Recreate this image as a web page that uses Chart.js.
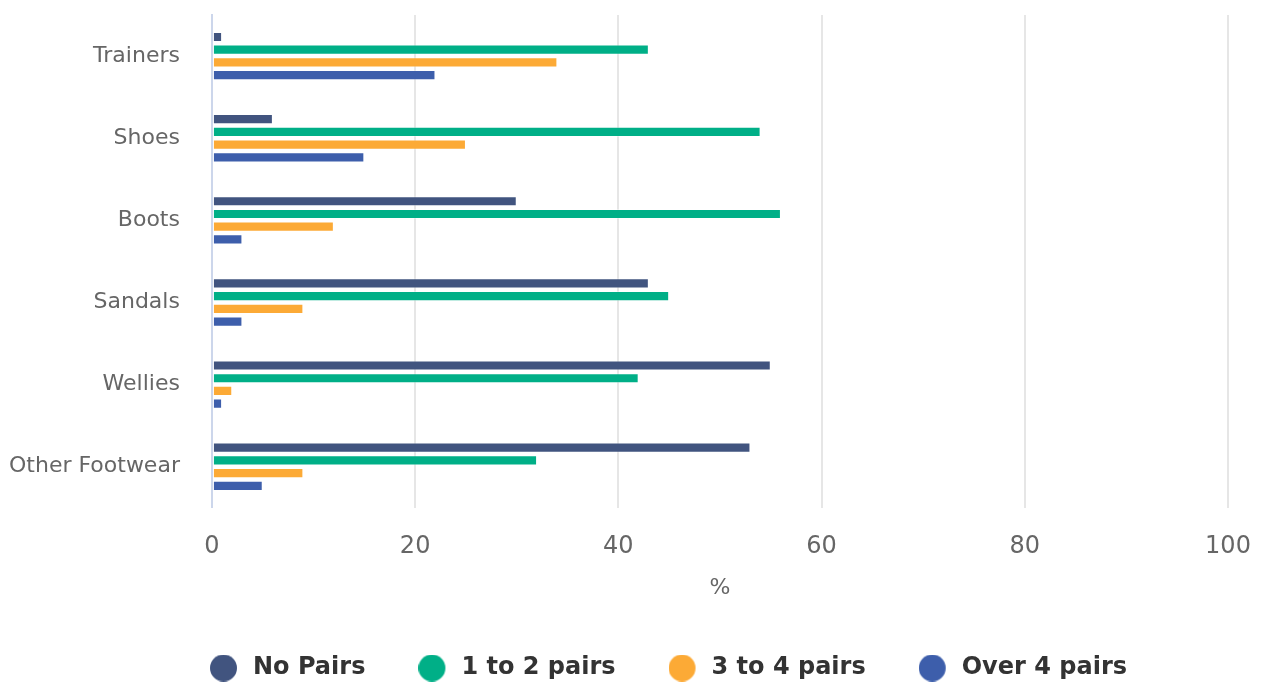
<!DOCTYPE html>
<html>
<head>
<meta charset="utf-8">
<script src="https://cdn.jsdelivr.net/npm/chart.js@4"></script>
<style>
  html, body { margin: 0; padding: 0; background: #fff; }
  #wrap { width: 1264px; height: 682px; }
</style>
</head>
<body>
<div id="wrap"><canvas id="footwearChart"></canvas></div>
<script>
// Datos
const categories = ['Trainers', 'Shoes', 'Boots', 'Sandals', 'Wellies', 'Other Footwear'];
const noPairs = [1, 6, 30, 43, 55, 53];
const oneToTwo = [43, 54, 56, 45, 42, 32];
const threeToFour = [34, 25, 12, 9, 2, 9];
const overFour = [22, 15, 3, 3, 1, 5];
const xTicks = [0, 20, 40, 60, 80, 100];

const FONT = '"DejaVu Sans", Verdana, sans-serif';

// Círculo de leyenda desplazado a la izquierda para dejar hueco con el texto
function legendDot(color) {
    const c = document.createElement('canvas');
    c.width = 33;
    c.height = 27;
    const g = c.getContext('2d');
    g.fillStyle = color;
    g.beginPath();
    g.arc(13.5, 13.5, 13.5, 0, Math.PI * 2);
    g.fill();
    return c;
}

function makeSet(label, data, color) {
    return {
        label: label,
        data: data,
        backgroundColor: color,
        borderColor: 'rgba(255,255,255,0.35)',
        borderWidth: 1,
        borderSkipped: false,
        categoryPercentage: 0.62,
        barPercentage: 0.8,
        pointStyle: legendDot(color),
    };
}

// Centrar la leyenda bajo el área del gráfico, no bajo todo el lienzo
const legendShift = {
    id: 'legendShift',
    afterLayout(chart) {
        if (!chart.legend) return;
        chart.legend.left += 67;
        chart.legend.right += 67;
    }
};

function initChart() {
    const ctx = document.getElementById('footwearChart').getContext('2d');
    new Chart(ctx, {
        type: 'bar',
        data: {
            labels: categories,
            datasets: [
                makeSet('No Pairs', noPairs, '#41547f'),
                makeSet('1 to 2 pairs', oneToTwo, '#00af87'),
                makeSet('3 to 4 pairs', threeToFour, '#fcaa36'),
                makeSet('Over 4 pairs', overFour, '#3d5eab'),
            ]
        },
        plugins: [legendShift],
        options: {
            indexAxis: 'y',
            responsive: true,
            maintainAspectRatio: false,
            animation: false,
            layout: { padding: { top: 15, right: 36, left: -23, bottom: -8 } },
            scales: {
                x: {
                    min: 0,
                    max: 100,
                    afterFit: s => { s.paddingRight = 0; },
                    afterBuildTicks: axis => { axis.ticks = xTicks.map(v => ({ value: v })); },
                    grid: {
                        color: c => c.tick && c.tick.value === 0 ? 'rgba(0,0,0,0)' : '#e6e6e6',
                        lineWidth: 2,
                        drawTicks: false,
                    },
                    border: { display: false },
                    ticks: {
                        color: '#666',
                        font: { family: FONT, size: 24 },
                        padding: 25,
                    },
                    title: {
                        display: true,
                        text: '%',
                        color: '#666',
                        font: { family: FONT, size: 22 },
                        padding: { top: -12, bottom: 0 },
                    }
                },
                y: {
                    // Sin relleno extra arriba/abajo del eje de categorías
                    afterFit: s => { s.paddingTop = 0; s.paddingBottom = 0; },
                    grid: { display: false, drawTicks: false },
                    border: { display: true, color: '#ccd6eb', width: 2 },
                    ticks: {
                        color: '#666',
                        font: { family: FONT, size: 22 },
                        padding: 32,
                    }
                }
            },
            plugins: {
                legend: {
                    position: 'bottom',
                    labels: {
                        usePointStyle: true,
                        pointStyleWidth: 29,
                        padding: 55,
                        color: '#333',
                        font: { family: FONT, size: 24, weight: 'bold' },
                    }
                },
                tooltip: { enabled: false }
            }
        }
    });
}

document.addEventListener('DOMContentLoaded', initChart);
</script>
</body>
</html>
